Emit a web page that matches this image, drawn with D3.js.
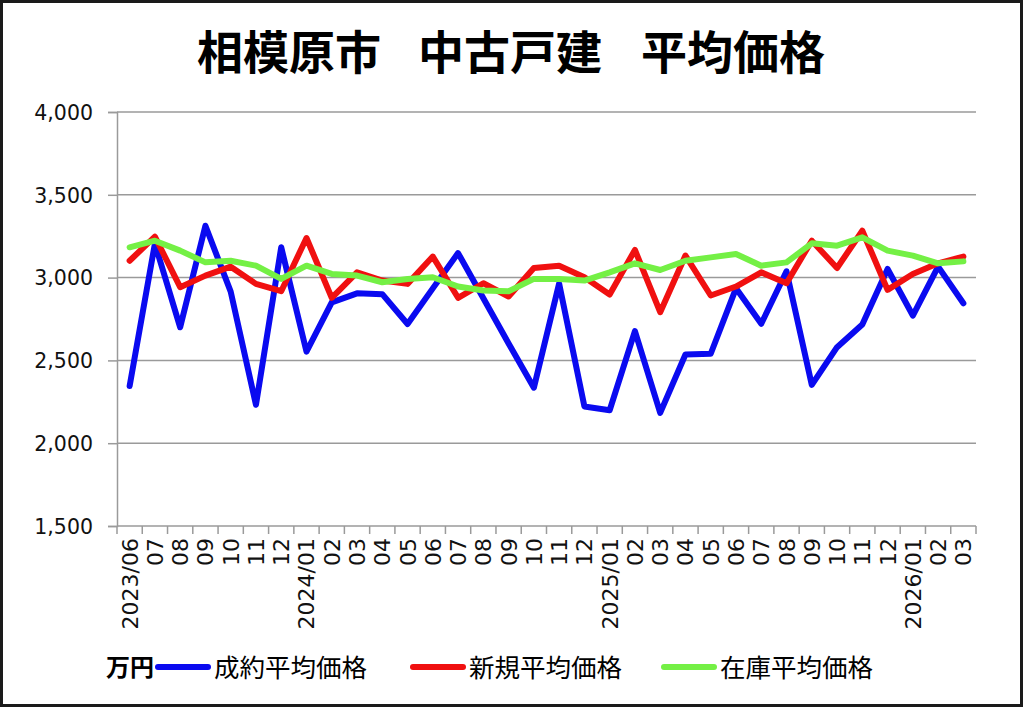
<!DOCTYPE html>
<html><head><meta charset="utf-8">
<script src="https://cdn.jsdelivr.net/npm/d3@7"></script>
<style>
html,body{margin:0;padding:0;background:#fff;}
svg{display:block;}
</style></head>
<body>
<svg id="c" width="1024" height="708"></svg>
<script>
const titleParts = ["相模原市", "中古戸建", "平均価格"];
const months = ["2023/06","07","08","09","10","11","12","2024/01","02","03","04","05","06","07","08","09","10","11","12","2025/01","02","03","04","05","06","07","08","09","10","11","12","2026/01","02","03"];
const seiyaku = [2345,3205,2700,3313,2915,2232,3183,2553,2850,2905,2900,2720,2935,3148,2875,2602,2335,2964,2222,2199,2677,2183,2536,2540,2935,2721,3038,2352,2580,2717,3052,2771,3066,2845];
const shinki  = [3102,3247,2942,3012,3066,2962,2918,3239,2878,3032,2982,2962,3127,2878,2966,2886,3058,3072,3002,2898,3167,2791,3133,2892,2946,3032,2966,3223,3058,3283,2926,3022,3086,3127];
const zaiko   = [3183,3223,3163,3092,3102,3072,2992,3072,3022,3012,2972,2992,3002,2946,2922,2918,2992,2992,2982,3032,3086,3046,3102,3122,3143,3072,3092,3207,3193,3243,3163,3133,3086,3098];
const yTicks = [1500,2000,2500,3000,3500,4000];
const seriesNames = ["成約平均価格","新規平均価格","在庫平均価格"];
const seriesColors = ["#0a0af0","#f01010","#74f045"];
const unitLabel = "万円";

const svg = d3.select("#c");
svg.append("rect").attr("x",1.5).attr("y",1.5).attr("width",1020).attr("height",704)
  .attr("fill","#fff").attr("stroke","#1a1a1a").attr("stroke-width",3);

const L=117, R=976, T=112, B=526;
const x = d3.scaleBand().domain(d3.range(months.length)).range([L,R]).padding(0);
const y = d3.scaleLinear().domain([1500,4000]).range([B,T]);
const cx = i => x(i)+x.bandwidth()/2;

// title
const titleX = [289, 510, 733];
titleParts.forEach((t,i)=>{
  svg.append("text").attr("x",titleX[i]).attr("y",69).attr("text-anchor","middle")
    .attr("font-family","'Noto Sans CJK JP'").attr("font-weight","bold").attr("font-size",46)
    .attr("fill","#000").text(t);
});

// gridlines
svg.append("g").selectAll("line").data(yTicks.filter(d=>d>1500)).join("line")
  .attr("x1",L).attr("x2",R).attr("y1",d=>y(d)).attr("y2",d=>y(d))
  .attr("stroke","#9a9a9a").attr("stroke-width",1.5);

// y axis
const yAxis = d3.axisLeft(y).tickValues(yTicks).tickSize(9).tickPadding(15).tickFormat(d3.format(","));
const gy = svg.append("g").attr("transform",`translate(${L},0)`).call(yAxis);
gy.select(".domain").attr("stroke","#9a9a9a").attr("stroke-width",1.5);
gy.selectAll(".tick line").attr("stroke","#9a9a9a").attr("stroke-width",1.5);
gy.selectAll(".tick text").attr("font-family","'DejaVu Sans'").attr("font-size",20.5).attr("fill","#111").attr("dy","0.36em");

// x axis
const gx = svg.append("g");
gx.append("line").attr("x1",L).attr("x2",R).attr("y1",B).attr("y2",B).attr("stroke","#9a9a9a").attr("stroke-width",1.5);
gx.selectAll("line.tk").data(d3.range(months.length+1)).join("line").attr("class","tk")
  .attr("x1",i=> i<months.length ? x(i) : R).attr("x2",i=> i<months.length ? x(i) : R)
  .attr("y1",B).attr("y2",B+8).attr("stroke","#9a9a9a").attr("stroke-width",1.5);
gx.selectAll("text").data(months).join("text")
  .attr("transform",(d,i)=>`translate(${cx(i)+8},${B+12}) rotate(-90)`)
  .attr("text-anchor","end").attr("font-family","'DejaVu Sans'").attr("font-size",22).attr("fill","#111")
  .text(d=>d);

// lines
const line = d3.line().x((d,i)=>cx(i)).y(d=>y(d));
[seiyaku, shinki, zaiko].forEach((s,k)=>{
  svg.append("path").datum(s).attr("d",line).attr("fill","none")
    .attr("stroke",seriesColors[k]).attr("stroke-width",6)
    .attr("stroke-linejoin","round").attr("stroke-linecap","round");
});

// legend
svg.append("text").attr("x",106).attr("y",676).attr("font-family","'Noto Sans CJK JP'")
  .attr("font-weight","bold").attr("font-size",24).attr("fill","#000").text(unitLabel);
const legX = [155, 410, 661];
seriesNames.forEach((n,k)=>{
  svg.append("line").attr("x1",legX[k]+3).attr("x2",legX[k]+53).attr("y1",667).attr("y2",667)
    .attr("stroke",seriesColors[k]).attr("stroke-width",6).attr("stroke-linecap","round");
  svg.append("text").attr("x",legX[k]+59).attr("y",677).attr("font-family","'Noto Sans CJK JP'")
    .attr("font-size",25.5).attr("fill","#000").text(n);
});
</script>
</body></html>
